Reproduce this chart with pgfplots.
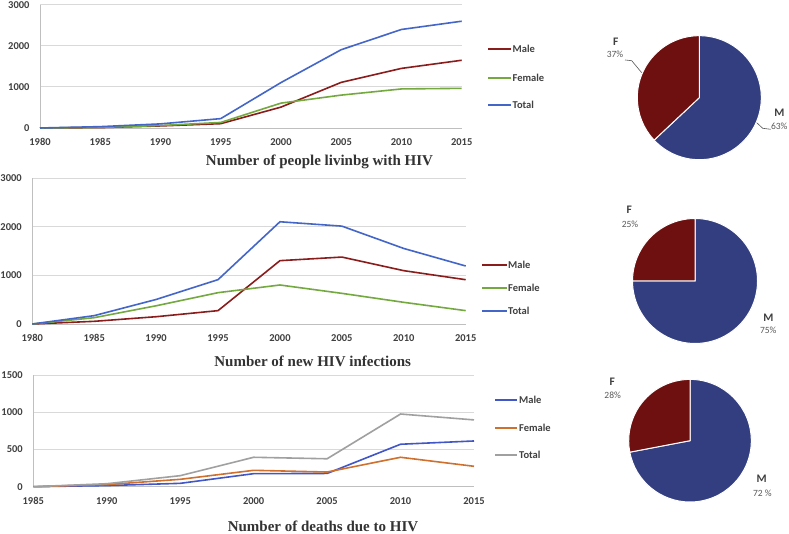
\documentclass[border=0pt]{standalone}
\usepackage{pgfplots}
\pgfplotsset{compat=1.18}
\usepackage{fontspec}
\setmainfont{Carlito}
\newfontfamily\titlefont{Liberation Serif}
\definecolor{male1}{HTML}{8B1C1C}
\definecolor{female1}{HTML}{74A940}
\definecolor{total1}{HTML}{4466C8}
\definecolor{male3}{HTML}{4156C7}
\definecolor{female3}{HTML}{D0702E}
\definecolor{total3}{HTML}{A0A0A0}
\definecolor{pieF}{HTML}{6E1010}
\definecolor{pieM}{HTML}{323E7F}
\definecolor{axisgray}{HTML}{BFBFBF}
\definecolor{gridgray}{HTML}{D9D9D9}
\definecolor{ticktext}{HTML}{404040}
\definecolor{titletext}{HTML}{333333}
\definecolor{pcttext}{HTML}{595959}
\pgfplotsset{hiv/.style={scale only axis, anchor=south west,
  axis lines=left, axis line style={-, draw=axisgray, line width=0.8pt},
  ymajorgrids, grid style={draw=gridgray, line width=0.8pt},
  major tick length=0pt,
  tick label style={font=\fontsize{10.5}{12}\selectfont\bfseries, text=ticktext},
  /pgf/number format/1000 sep={}, /pgf/number format/assume math mode=true,
  clip=false, xticklabel style={yshift=-7pt}, yticklabel style={xshift=-7pt},
  every axis plot/.append style={line width=1.6pt, mark=none}},
  pie/.style={anchor=center, hide axis, x=1pt, y=1pt, clip=false}}
\newcommand{\legfont}{\fontsize{10.5}{12}\selectfont\bfseries}
\newcommand{\ttlfont}{\titlefont\bfseries\fontsize{15}{18}\selectfont}
\newcommand{\pielab}{\fontsize{11.5}{13}\selectfont\bfseries}
\newcommand{\piepct}{\fontsize{9.5}{11}\selectfont}
\begin{document}
\begin{tikzpicture}
\path[use as bounding box, fill=white] (0pt,0pt) rectangle (789pt,534pt);

% ---------- Panel 1 ----------
\begin{axis}[hiv, at={(40pt,406pt)}, width=421.7pt, height=123.3pt,
  xmin=1980, xmax=2015, ymin=0, ymax=3000,
  xtick={1980,1985,...,2015}, ytick={0,1000,2000,3000}]
\addplot[male1] coordinates {(1980,0)(1985,10)(1990,50)(1995,105)(2000,508)(2005,1110)(2010,1450)(2015,1648)};
\addplot[female1] coordinates {(1980,0)(1985,15)(1990,60)(1995,135)(2000,605)(2005,800)(2010,950)(2015,965)};
\addplot[total1] coordinates {(1980,0)(1985,33)(1990,100)(1995,228)(2000,1105)(2005,1905)(2010,2397)(2015,2598)};
\end{axis}
\draw[draw=male1, line width=2pt] (488pt,485pt) -- (511pt,485pt);
\draw[draw=female1, line width=2pt] (488pt,456pt) -- (511pt,456pt);
\draw[draw=total1, line width=2pt] (488pt,429pt) -- (511pt,429pt);
\node[anchor=west, inner sep=0pt, font=\legfont, text=ticktext] at (512.5pt,485pt) {Male};
\node[anchor=west, inner sep=0pt, font=\legfont, text=ticktext] at (512.5pt,456pt) {Female};
\node[anchor=west, inner sep=0pt, font=\legfont, text=ticktext] at (512.5pt,429pt) {Total};
\node[font=\ttlfont, text=titletext, inner sep=0pt] at (319.5pt,372.3pt) {Number of people livinbg with HIV};

% ---------- Panel 2 ----------
\begin{axis}[hiv, at={(32.3pt,210pt)}, width=433.4pt, height=145.7pt,
  xmin=1980, xmax=2015, ymin=0, ymax=3000,
  xtick={1980,1985,...,2015}, ytick={0,1000,2000,3000}]
\addplot[male1] coordinates {(1980,0)(1985,55)(1990,150)(1995,275)(2000,1304)(2005,1378)(2010,1098)(2015,912)};
\addplot[female1] coordinates {(1980,0)(1985,130)(1990,375)(1995,645)(2000,803)(2005,631)(2010,446)(2015,275)};
\addplot[total1] coordinates {(1980,0)(1985,172)(1990,505)(1995,913)(2000,2105)(2005,2015)(2010,1555)(2015,1194)};
\end{axis}
\draw[draw=male1, line width=2pt] (482pt,269pt) -- (507pt,269pt);
\draw[draw=female1, line width=2pt] (482pt,246pt) -- (507pt,246pt);
\draw[draw=total1, line width=2pt] (482pt,223pt) -- (507pt,223pt);
\node[anchor=west, inner sep=0pt, font=\legfont, text=ticktext] at (508pt,269pt) {Male};
\node[anchor=west, inner sep=0pt, font=\legfont, text=ticktext] at (508pt,246pt) {Female};
\node[anchor=west, inner sep=0pt, font=\legfont, text=ticktext] at (508pt,223pt) {Total};
\node[font=\ttlfont, text=titletext, inner sep=0pt] at (312.7pt,173pt) {Number of new HIV infections};

% ---------- Panel 3 ----------
\begin{axis}[hiv, at={(33.3pt,47.3pt)}, width=440.7pt, height=111.7pt,
  xmin=1985, xmax=2015, ymin=0, ymax=1500,
  xtick={1985,1990,...,2015}, ytick={0,500,1000,1500}]
\addplot[male3] coordinates {(1985,0)(1990,15)(1995,45)(2000,175)(2005,178)(2010,570)(2015,614)};
\addplot[female3] coordinates {(1985,0)(1990,28)(1995,99)(2000,220)(2005,197)(2010,395)(2015,274)};
\addplot[total3] coordinates {(1985,0)(1990,40)(1995,148)(2000,395)(2005,375)(2010,976)(2015,897)};
\end{axis}
\draw[draw=male3, line width=2pt] (495pt,134pt) -- (517pt,134pt);
\draw[draw=female3, line width=2pt] (495pt,106pt) -- (517pt,106pt);
\draw[draw=total3, line width=2pt] (495pt,79pt) -- (517pt,79pt);
\node[anchor=west, inner sep=0pt, font=\legfont, text=ticktext] at (519pt,134pt) {Male};
\node[anchor=west, inner sep=0pt, font=\legfont, text=ticktext] at (519pt,106pt) {Female};
\node[anchor=west, inner sep=0pt, font=\legfont, text=ticktext] at (519pt,79pt) {Total};
\node[font=\ttlfont, text=titletext, inner sep=0pt, anchor=base] at (323pt,2.6pt) {Number of deaths due to HIV};

% ---------- Pies ----------
% Pie 1: F 37, M 63
\begin{axis}[pie, at={(699.3pt,436.3pt)}, xmin=-62, xmax=62, ymin=-62, ymax=62]
\filldraw[fill=pieM, draw=white, line width=1pt] (axis cs:0,0) -- (axis cs:0,62) arc[start angle=90, end angle={90-63*3.6}, radius=62pt] -- cycle;
\filldraw[fill=pieF, draw=white, line width=1pt] (axis cs:0,0) -- (axis cs:0,62) arc[start angle=90, end angle={90+37*3.6}, radius=62pt] -- cycle;
\end{axis}
% Pie 2: F 25, M 75
\begin{axis}[pie, at={(695pt,253pt)}, xmin=-62.5, xmax=62.5, ymin=-62.5, ymax=62.5]
\filldraw[fill=pieM, draw=white, line width=1pt] (axis cs:0,0) -- (axis cs:0,62.5) arc[start angle=90, end angle={90-75*3.6}, radius=62.5pt] -- cycle;
\filldraw[fill=pieF, draw=white, line width=1pt] (axis cs:0,0) -- (axis cs:0,62.5) arc[start angle=90, end angle={90+25*3.6}, radius=62.5pt] -- cycle;
\end{axis}
% Pie 3: F 28, M 72
\begin{axis}[pie, at={(690pt,93.3pt)}, xmin=-61.3, xmax=61.3, ymin=-61.3, ymax=61.3]
\filldraw[fill=pieM, draw=white, line width=1pt] (axis cs:0,0) -- (axis cs:0,61.3) arc[start angle=90, end angle={90-72*3.6}, radius=61.3pt] -- cycle;
\filldraw[fill=pieF, draw=white, line width=1pt] (axis cs:0,0) -- (axis cs:0,61.3) arc[start angle=90, end angle={90+28*3.6}, radius=61.3pt] -- cycle;
\end{axis}

% pie labels
\draw[pcttext, line width=0.6pt] (625pt,474pt) -- (631.7pt,473.3pt) -- (641.7pt,461.3pt);
\draw[pcttext, line width=0.6pt] (770.7pt,404.7pt) -- (762.7pt,405.7pt) -- (756.7pt,411.3pt);
\node[font=\pielab, text=ticktext] at (615.7pt,492.3pt) {F};
\node[font=\piepct, text=pcttext] at (615pt,479.7pt) {37\%};
\node[font=\pielab, text=ticktext] at (779.3pt,421.3pt) {M};
\node[font=\piepct, text=pcttext] at (779.3pt,408pt) {63\%};
\node[font=\pielab, text=ticktext] at (629.3pt,324.7pt) {F};
\node[font=\piepct, text=pcttext] at (630pt,310pt) {25\%};
\node[font=\pielab, text=ticktext] at (768.3pt,216.3pt) {M};
\node[font=\piepct, text=pcttext] at (768.3pt,203.3pt) {75\%};
\node[font=\pielab, text=ticktext] at (612.3pt,152.3pt) {F};
\node[font=\piepct, text=pcttext] at (612.7pt,139pt) {28\%};
\node[font=\pielab, text=ticktext] at (761.7pt,55.7pt) {M};
\node[font=\piepct, text=pcttext] at (762.3pt,40.7pt) {72 \%};
\end{tikzpicture}
\end{document}
